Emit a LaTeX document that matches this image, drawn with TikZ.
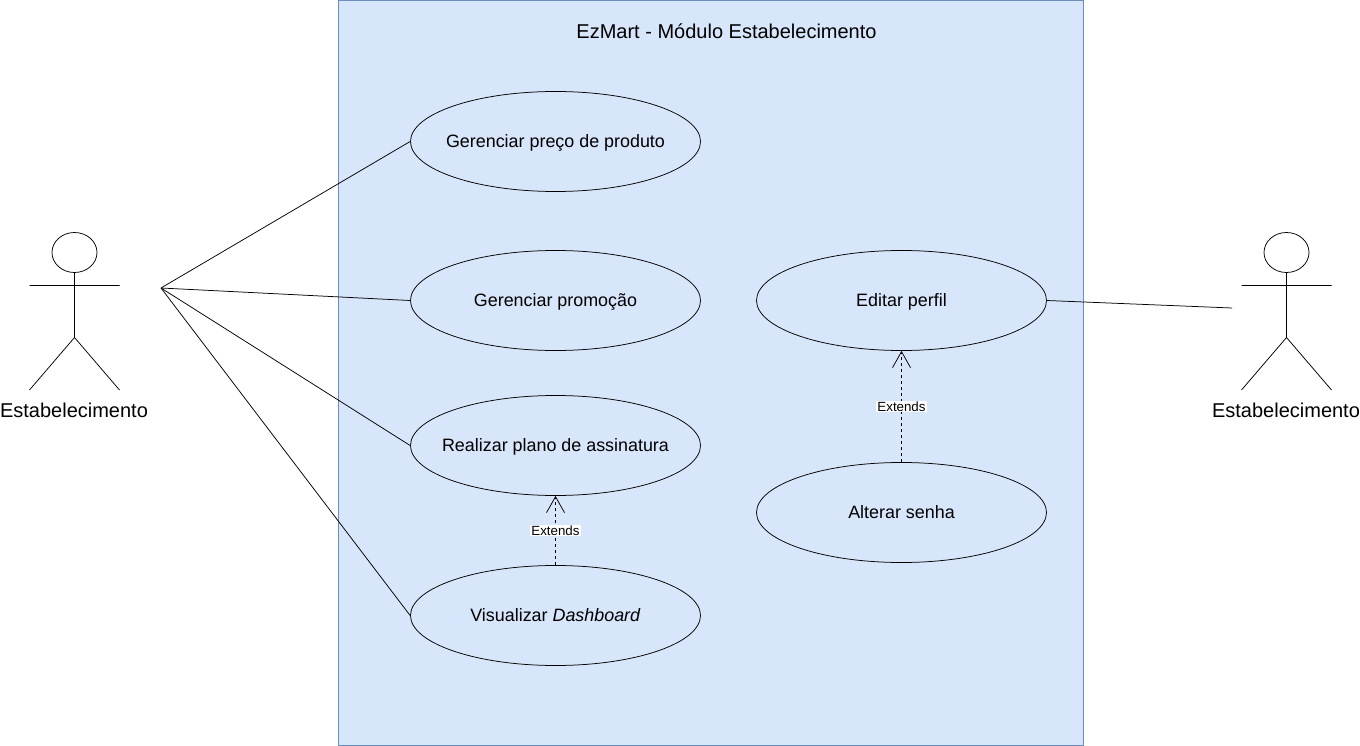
\documentclass[tikz,border=0pt]{standalone}
\usepackage{fontspec}
\setmainfont{Liberation Sans}
\usetikzlibrary{arrows.meta,shapes.geometric}
\definecolor{sysfill}{HTML}{D7E6FA}
\definecolor{sysline}{HTML}{6C8EBF}
\newcommand{\uctext}[1]{\makebox[0pt][c]{\vphantom{Ágp}#1}}
\tikzset{x=1pt,y=-1pt,
  uc/.style={draw=black,line width=0.75pt,fill=sysfill,ellipse,minimum width=290pt,minimum height=100pt,inner sep=0pt,font=\fontsize{17.9pt}{20pt}\selectfont},
  assoc/.style={draw=black,line width=0.75pt},
  ext/.style={draw=black,line width=0.75pt,dash pattern=on 3pt off 3pt,-{Straight Barb[length=16pt,width=18pt,line width=0.75pt]}},
  extlabel/.style={fill=white,inner sep=1pt,font=\fontsize{13.3pt}{15pt}\selectfont},
  actorlabel/.style={inner sep=0pt,font=\fontsize{20pt}{22pt}\selectfont},
  actorline/.style={draw=black,line width=0.75pt}}
\begin{document}
\begin{tikzpicture}
\useasboundingbox (0,0) rectangle (1360,746);
\node[draw=sysline,fill=sysfill,line width=0.75pt,minimum width=745pt,minimum height=745pt,inner sep=0pt,outer sep=0pt,anchor=north west] (sys) at (338,0.3) {};
\node[inner sep=0pt,font=\fontsize{20pt}{22pt}\selectfont] (title) at (726.5,31.5) {EzMart - Módulo Estabelecimento};
\node[uc] (preco) at (555.5,141.5) {\uctext{Gerenciar preço de produto}};
\node[uc] (promo) at (555.5,300.5) {\uctext{Gerenciar promoção}};
\node[uc] (plano) at (555.5,445.5) {\uctext{Realizar plano de assinatura}};
\node[uc] (dash) at (555.5,615.5) {\uctext{Visualizar \textit{Dashboard}}};
\node[uc] (perfil) at (901.5,300.5) {\uctext{Editar perfil}};
\node[uc] (senha) at (901.5,512.5) {\uctext{Alterar senha}};
% left actor
\draw[actorline] (74.5,252.5) ellipse (22.5pt and 20pt);
\draw[actorline] (74.5,272.5) -- (74.5,337.5) (29.5,285.5) -- (119.5,285.5) (29.5,390) -- (74.5,337.5) -- (119.5,390);
\node[actorlabel] (la) at (74,410.5) {Estabelecimento};
\coordinate (lp) at (161,288);
% right actor
\draw[actorline] (1286.5,252.5) ellipse (22.5pt and 20pt);
\draw[actorline] (1286.5,272.5) -- (1286.5,337.5) (1241.5,285.5) -- (1331.5,285.5) (1241.5,390) -- (1286.5,337.5) -- (1331.5,390);
\node[actorlabel] (ra) at (1286,410.5) {Estabelecimento};
\coordinate (rp) at (1232,308);
\draw[assoc] (lp) -- (preco.west);
\draw[assoc] (lp) -- (promo.west);
\draw[assoc] (lp) -- (plano.west);
\draw[assoc] (lp) -- (dash.west);
\draw[assoc] (perfil.east) -- (rp);
\draw[ext] (dash.north) -- node[extlabel]{Extends} (plano.south);
\draw[ext] (senha.north) -- node[extlabel]{Extends} (perfil.south);
\end{tikzpicture}
\end{document}
